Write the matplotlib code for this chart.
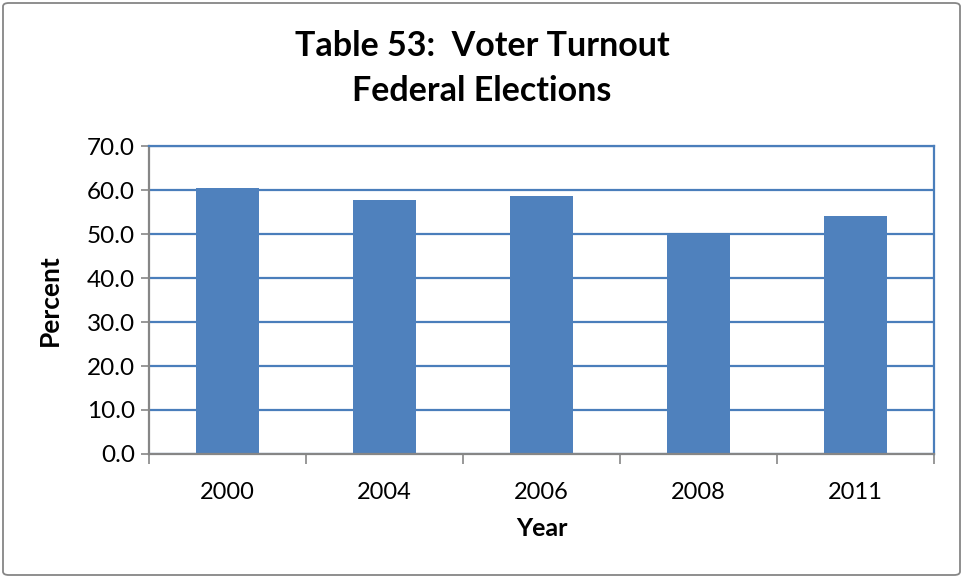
import matplotlib
matplotlib.use("Agg")
import matplotlib.pyplot as plt
from matplotlib.patches import FancyBboxPatch
import numpy as np

years = ["2000", "2004", "2006", "2008", "2011"]
turnout = [60.4, 57.7, 58.7, 50.1, 54.0]
yticks = [0, 10, 20, 30, 40, 50, 60, 70]

plt.rcParams['font.family'] = ['Lato', 'DejaVu Sans']

fig = plt.figure(figsize=(9.63, 5.78), dpi=100)
ax = fig.add_axes([149/963, 1-454/578, (934-149)/963, (454-146)/578])

blue = "#4F81BD"
grid_blue = "#4A7EBB"
x = np.arange(len(years))
ax.bar(x, turnout, width=0.4, color=blue, zorder=3)
ax.set_xlim(-0.5, len(years)-0.5)
ax.set_ylim(0, 70)
ax.set_yticks(yticks)
ax.set_yticklabels([f"{v:.1f}" for v in yticks], fontsize=17.5)
ax.set_xticks(x)
ax.set_xticklabels(years, fontsize=17)
ax.tick_params(axis='x', length=0, pad=20)
ax.tick_params(axis='y', length=6, color="#868686", width=1.2, pad=4, direction='out')
ax.set_xticks(np.arange(-0.5, len(years), 1), minor=True)
ax.tick_params(axis='x', which='minor', length=7, color="#868686", width=1.2, direction='out')
ax.yaxis.grid(True, color=grid_blue, linewidth=1.6, zorder=0)
ax.set_axisbelow(True)
for s in ['top', 'right']:
    ax.spines[s].set_color(grid_blue)
    ax.spines[s].set_linewidth(1.6)
for s in ['left', 'bottom']:
    ax.spines[s].set_color("#868686")
    ax.spines[s].set_linewidth(1.6)
ax.spines['bottom'].set_zorder(4)

ax.set_xlabel("Year", fontsize=18, fontweight='bold', labelpad=10)
ax.set_ylabel("Percent", fontsize=19, fontweight='bold', labelpad=18)

fig.text(482/963, 1-69/578, "Table 53:  Voter Turnout\nFederal Elections", ha='center', va='center',
         fontsize=24.5, fontweight='bold', linespacing=1.5)

border = FancyBboxPatch((3/963, 3/578), 957/963, 572/578, boxstyle="round,pad=0,rounding_size=0.006",
                        transform=fig.transFigure, fill=False, edgecolor="#868686", linewidth=1.3)
fig.patches.append(border)

fig.savefig("out.png", dpi=100)
